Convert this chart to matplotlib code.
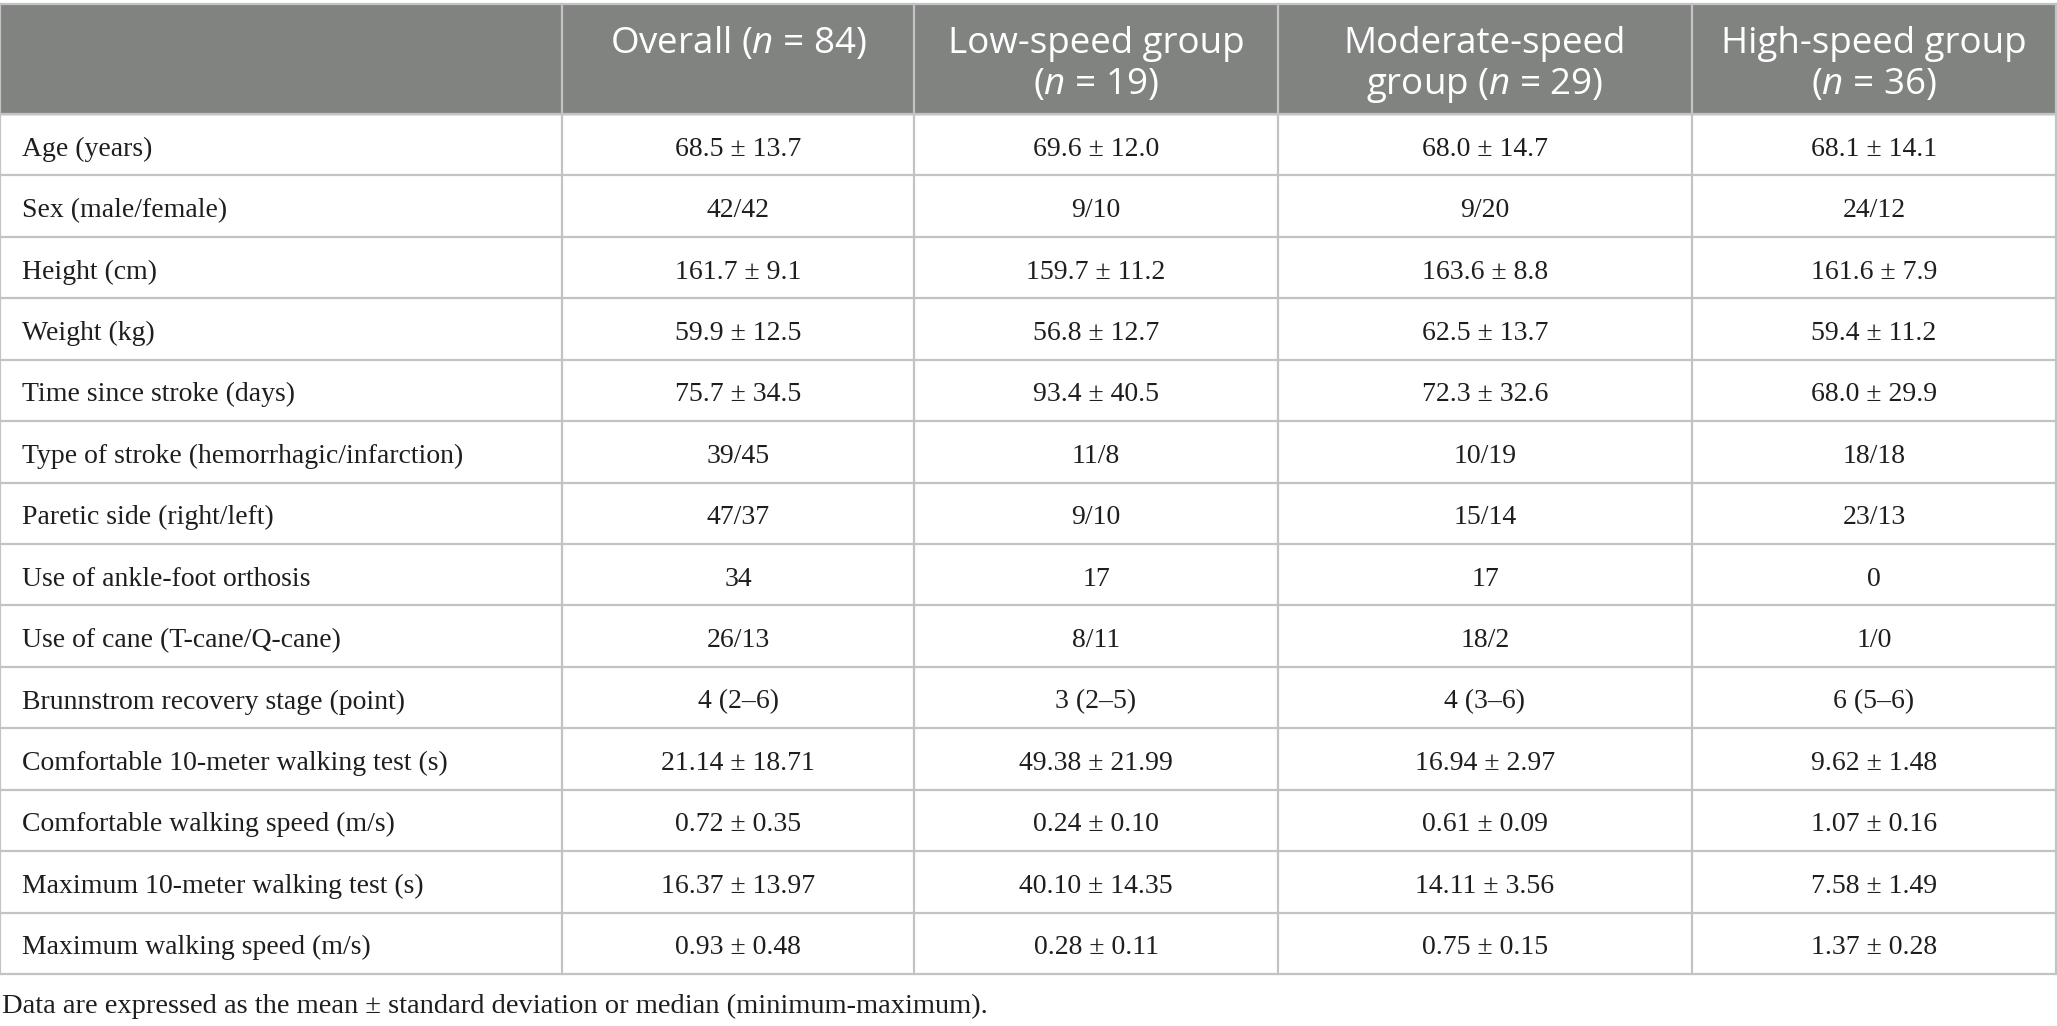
import matplotlib.pyplot as plt
from matplotlib.patches import Rectangle

# Datos de la tabla
encabezados = [
    "",
    "Overall ($\\mathit{n}$ = 84)",
    "Low-speed group\n($\\mathit{n}$ = 19)",
    "Moderate-speed\ngroup ($\\mathit{n}$ = 29)",
    "High-speed group\n($\\mathit{n}$ = 36)",
]
variables = [
    "Age (years)",
    "Sex (male/female)",
    "Height (cm)",
    "Weight (kg)",
    "Time since stroke (days)",
    "Type of stroke (hemorrhagic/infarction)",
    "Paretic side (right/left)",
    "Use of ankle-foot orthosis",
    "Use of cane (T-cane/Q-cane)",
    "Brunnstrom recovery stage (point)",
    "Comfortable 10-meter walking test (s)",
    "Comfortable walking speed (m/s)",
    "Maximum 10-meter walking test (s)",
    "Maximum walking speed (m/s)",
]
overall = ["68.5 ± 13.7", "42/42", "161.7 ± 9.1", "59.9 ± 12.5", "75.7 ± 34.5",
           "39/45", "47/37", "34", "26/13", "4 (2–6)", "21.14 ± 18.71",
           "0.72 ± 0.35", "16.37 ± 13.97", "0.93 ± 0.48"]
baja = ["69.6 ± 12.0", "9/10", "159.7 ± 11.2", "56.8 ± 12.7", "93.4 ± 40.5",
        "11/8", "9/10", "17", "8/11", "3 (2–5)", "49.38 ± 21.99",
        "0.24 ± 0.10", "40.10 ± 14.35", "0.28 ± 0.11"]
moderada = ["68.0 ± 14.7", "9/20", "163.6 ± 8.8", "62.5 ± 13.7", "72.3 ± 32.6",
            "10/19", "15/14", "17", "18/2", "4 (3–6)", "16.94 ± 2.97",
            "0.61 ± 0.09", "14.11 ± 3.56", "0.75 ± 0.15"]
alta = ["68.1 ± 14.1", "24/12", "161.6 ± 7.9", "59.4 ± 11.2", "68.0 ± 29.9",
        "18/18", "23/13", "0", "1/0", "6 (5–6)", "9.62 ± 1.48",
        "1.07 ± 0.16", "7.58 ± 1.49", "1.37 ± 0.28"]
nota = "Data are expressed as the mean ± standard deviation or median (minimum-maximum)."

# Fuentes
plt.rcParams['mathtext.fontset'] = 'custom'
plt.rcParams['mathtext.rm'] = 'Open Sans'
plt.rcParams['mathtext.it'] = 'Open Sans:italic'

W, H = 2057, 1026
fig = plt.figure(figsize=(W / 100, H / 100), dpi=100)
ax = fig.add_axes([0, 0, 1, 1])
ax.set_xlim(0, W)
ax.set_ylim(H, 0)
ax.axis('off')

# Geometria (pixeles)
bordes_x = [0, 562, 914, 1278, 1692, 2056]
y_top, y_head, y_fin = 4, 114, 974
alto_fila = (y_fin - y_head) / len(variables)
gris = '#818381'
linea = '#c3c3c3'
texto = '#1e1e1e'

ax.add_patch(Rectangle((0, y_top), W, y_head - y_top, color=gris, zorder=0))

# Encabezados
for i, txt in enumerate(encabezados):
    if not txt:
        continue
    cx = (bordes_x[i] + bordes_x[i + 1]) / 2
    for j, parte in enumerate(txt.split('\n')):
        ax.text(cx, 53 + j * 41, parte, ha='center', va='baseline', color='white',
                fontsize=26.5, family='Open Sans')

# Filas
columnas = [overall, baja, moderada, alta]
for r, var in enumerate(variables):
    yb = y_head + (r + 0.5) * alto_fila + 11
    ax.text(22, yb, var, ha='left', va='baseline', fontsize=20,
            family='Liberation Serif', color=texto)
    for c, col in enumerate(columnas):
        cx = (bordes_x[c + 1] + bordes_x[c + 2]) / 2
        ax.text(cx, yb, col[r], ha='center', va='baseline', fontsize=20,
                family='Liberation Serif', color=texto)

# Lineas de la tabla
for r in range(len(variables) + 1):
    y = y_head + r * alto_fila
    ax.plot([0, W], [y, y], color=linea, lw=1.6, zorder=2)
ax.plot([0, W], [y_top, y_top], color=linea, lw=1.6, zorder=2)
for x in bordes_x:
    ax.plot([x, x], [y_top, y_fin], color=linea, lw=1.6, zorder=2)

ax.text(2, 1013, nota, ha='left', va='baseline', fontsize=20.5,
        family='Liberation Serif', color=texto)

fig.savefig('out.png', dpi=100)
